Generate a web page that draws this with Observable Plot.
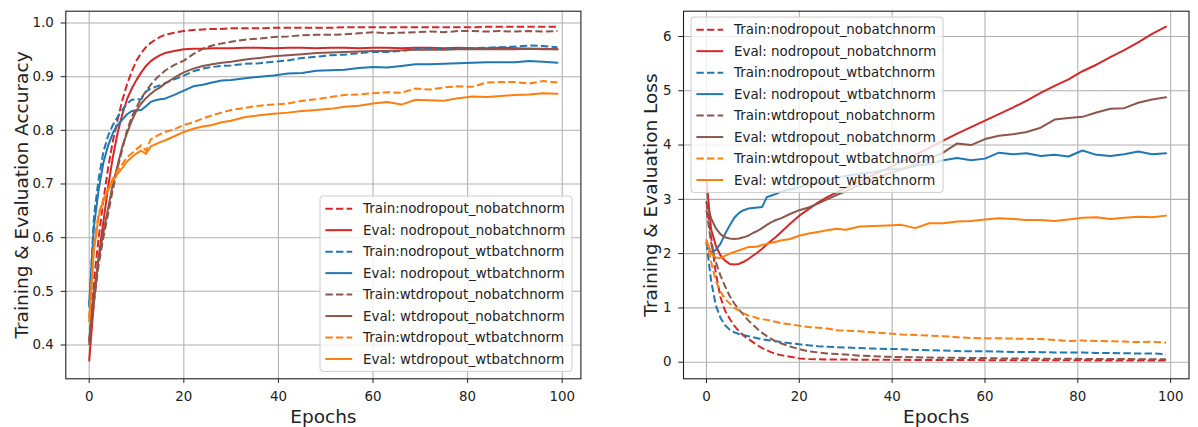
<!DOCTYPE html>
<html><head><meta charset="utf-8">
<script src="https://cdn.jsdelivr.net/npm/d3@7"></script>
<script src="https://cdn.jsdelivr.net/npm/@observablehq/plot@0.6"></script>
<style>
html,body{margin:0;padding:0;background:#fff;}
#wrap{position:relative;width:1198px;height:427px;overflow:hidden;font-family:"DejaVu Sans",sans-serif;}
.fig{position:absolute;top:0;}
</style></head><body><div id="wrap"></div>
<script>
const epochs = [0,1,2,3,4,5,6,7,8,9,10,11,12,13,14,15,16,18,20,22,24,26,28,30,33,36,39,42,45,48,51,54,57,60,63,66,69,72,75,78,81,84,87,90,93,96,99];
const xTicks = [0,20,40,60,80,100];
const accTicks = [0.4,0.5,0.6,0.7,0.8,0.9,1.0];
const lossTicks = [0,1,2,3,4,5,6];

const labels = ["Train:nodropout_nobatchnorm","Eval: nodropout_nobatchnorm","Train:nodropout_wtbatchnorm","Eval: nodropout_wtbatchnorm","Train:wtdropout_nobatchnorm","Eval: wtdropout_nobatchnorm","Train:wtdropout_wtbatchnorm","Eval: wtdropout_wtbatchnorm"];
const colors = ["#d62728","#d62728","#1f77b4","#1f77b4","#8c564b","#8c564b","#ff7f0e","#ff7f0e"];
const dashed = [true,false,true,false,true,false,true,false];

// Accuracy
const accTrainNdNb = [0.405,0.52,0.60,0.67,0.73,0.78,0.82,0.856,0.886,0.91,0.93,0.944,0.955,0.963,0.969,0.974,0.978,0.982,0.985,0.987,0.988,0.989,0.989,0.990,0.990,0.990,0.991,0.991,0.991,0.991,0.991,0.992,0.992,0.992,0.992,0.992,0.992,0.992,0.992,0.992,0.992,0.993,0.993,0.993,0.993,0.993,0.993];
const accEvalNdNb = [0.371,0.48,0.565,0.63,0.695,0.75,0.795,0.83,0.858,0.878,0.894,0.908,0.92,0.929,0.935,0.940,0.944,0.948,0.951,0.952,0.952,0.953,0.953,0.953,0.954,0.954,0.953,0.954,0.954,0.953,0.954,0.954,0.953,0.954,0.954,0.953,0.954,0.954,0.953,0.954,0.953,0.953,0.954,0.953,0.952,0.952,0.951];
const accTrainNdWb = [0.47,0.64,0.71,0.76,0.79,0.81,0.825,0.838,0.85,0.857,0.858,0.858,0.872,0.878,0.881,0.884,0.888,0.895,0.902,0.91,0.915,0.918,0.920,0.921,0.924,0.925,0.928,0.930,0.935,0.937,0.940,0.941,0.944,0.946,0.946,0.948,0.951,0.952,0.952,0.953,0.953,0.954,0.955,0.956,0.958,0.957,0.955];
const accEvalNdWb = [0.476,0.62,0.69,0.74,0.772,0.795,0.81,0.82,0.83,0.836,0.837,0.838,0.845,0.853,0.856,0.858,0.859,0.866,0.874,0.882,0.885,0.889,0.893,0.894,0.897,0.900,0.902,0.906,0.907,0.911,0.912,0.913,0.916,0.918,0.917,0.920,0.923,0.923,0.924,0.925,0.926,0.927,0.927,0.927,0.929,0.928,0.926];
const accTrainWdNb = [0.40,0.48,0.55,0.60,0.645,0.69,0.73,0.765,0.80,0.825,0.843,0.86,0.873,0.885,0.895,0.903,0.911,0.922,0.930,0.942,0.952,0.958,0.962,0.965,0.969,0.971,0.974,0.975,0.977,0.978,0.978,0.979,0.981,0.983,0.981,0.982,0.983,0.984,0.983,0.985,0.985,0.984,0.985,0.984,0.985,0.984,0.985];
const accEvalWdNb = [0.41,0.50,0.56,0.61,0.655,0.70,0.735,0.77,0.795,0.818,0.837,0.85,0.86,0.868,0.875,0.880,0.887,0.898,0.908,0.915,0.920,0.923,0.926,0.928,0.932,0.935,0.938,0.940,0.942,0.944,0.945,0.946,0.947,0.948,0.948,0.949,0.950,0.950,0.950,0.951,0.951,0.951,0.951,0.951,0.952,0.951,0.951];
const accTrainWdWb = [0.45,0.59,0.645,0.672,0.69,0.71,0.725,0.737,0.75,0.757,0.765,0.772,0.762,0.783,0.788,0.793,0.797,0.802,0.810,0.815,0.822,0.828,0.833,0.838,0.842,0.846,0.848,0.850,0.855,0.858,0.862,0.866,0.867,0.869,0.871,0.870,0.878,0.876,0.880,0.882,0.881,0.889,0.890,0.890,0.887,0.892,0.889];
const accEvalWdWb = [0.444,0.577,0.64,0.669,0.688,0.706,0.719,0.73,0.742,0.75,0.757,0.762,0.756,0.77,0.774,0.778,0.781,0.789,0.797,0.803,0.807,0.810,0.815,0.818,0.825,0.828,0.831,0.833,0.836,0.838,0.840,0.844,0.846,0.850,0.853,0.848,0.857,0.856,0.855,0.860,0.863,0.862,0.864,0.866,0.867,0.869,0.868];

// Loss
const lossTrainNdNb = [2.95,2.3,1.65,1.2,0.95,0.8,0.67,0.57,0.49,0.43,0.37,0.31,0.26,0.22,0.18,0.15,0.13,0.10,0.07,0.06,0.055,0.05,0.05,0.048,0.046,0.045,0.044,0.043,0.042,0.041,0.04,0.04,0.039,0.038,0.037,0.036,0.036,0.035,0.035,0.034,0.034,0.033,0.033,0.032,0.032,0.031,0.03];
const lossEvalNdNb = [3.35,2.45,2.15,1.97,1.87,1.81,1.80,1.81,1.85,1.90,1.96,2.02,2.09,2.17,2.24,2.31,2.39,2.55,2.70,2.82,2.94,3.04,3.13,3.21,3.33,3.45,3.57,3.70,3.82,3.95,4.08,4.21,4.33,4.45,4.57,4.69,4.82,4.96,5.09,5.21,5.36,5.48,5.62,5.75,5.89,6.05,6.18];
const lossTrainNdWb = [2.2,1.5,1.05,0.82,0.68,0.6,0.55,0.52,0.5,0.48,0.46,0.44,0.42,0.41,0.40,0.385,0.37,0.35,0.33,0.31,0.295,0.285,0.275,0.27,0.26,0.25,0.245,0.24,0.225,0.22,0.215,0.205,0.20,0.20,0.195,0.19,0.19,0.185,0.18,0.18,0.18,0.17,0.17,0.165,0.16,0.16,0.15];
const lossEvalNdWb = [2.20,2.02,2.07,2.18,2.36,2.52,2.66,2.75,2.80,2.83,2.84,2.85,2.86,3.04,3.07,3.10,3.14,3.18,3.22,3.27,3.30,3.34,3.40,3.43,3.47,3.50,3.55,3.56,3.62,3.65,3.72,3.76,3.72,3.75,3.86,3.83,3.85,3.80,3.82,3.79,3.90,3.82,3.80,3.83,3.88,3.83,3.85];
const lossTrainWdNb = [2.8,2.2,1.85,1.6,1.4,1.22,1.08,0.97,0.87,0.77,0.69,0.61,0.54,0.48,0.43,0.38,0.35,0.29,0.24,0.20,0.18,0.16,0.15,0.14,0.12,0.11,0.10,0.095,0.09,0.085,0.08,0.08,0.075,0.075,0.07,0.07,0.07,0.065,0.065,0.065,0.06,0.06,0.06,0.06,0.055,0.055,0.055];
const lossEvalWdNb = [2.95,2.65,2.47,2.36,2.30,2.28,2.27,2.28,2.30,2.33,2.38,2.42,2.47,2.53,2.58,2.62,2.65,2.73,2.80,2.85,2.92,3.00,3.08,3.15,3.27,3.38,3.47,3.55,3.65,3.75,3.86,4.03,4.00,4.11,4.17,4.20,4.24,4.32,4.47,4.50,4.52,4.60,4.67,4.68,4.78,4.84,4.88];
const lossTrainWdWb = [2.25,1.85,1.5,1.3,1.17,1.08,1.0,0.95,0.9,0.86,0.84,0.81,0.79,0.78,0.76,0.74,0.72,0.70,0.67,0.65,0.635,0.62,0.59,0.58,0.57,0.55,0.53,0.51,0.50,0.49,0.48,0.46,0.445,0.44,0.44,0.435,0.43,0.425,0.41,0.39,0.40,0.39,0.385,0.38,0.37,0.375,0.36];
const lossEvalWdWb = [2.25,2.00,1.93,1.92,1.96,2.00,2.03,2.06,2.09,2.12,2.12,2.13,2.16,2.18,2.20,2.22,2.24,2.27,2.33,2.37,2.40,2.43,2.46,2.44,2.50,2.51,2.52,2.53,2.47,2.56,2.56,2.59,2.60,2.63,2.65,2.64,2.62,2.62,2.60,2.63,2.66,2.67,2.64,2.66,2.68,2.67,2.70];

const accSeries = [accTrainNdNb,accEvalNdNb,accTrainNdWb,accEvalNdWb,accTrainWdNb,accEvalWdNb,accTrainWdWb,accEvalWdWb];
const lossSeries = [lossTrainNdNb,lossEvalNdNb,lossTrainNdWb,lossEvalNdWb,lossTrainWdNb,lossEvalWdNb,lossTrainWdWb,lossEvalWdWb];

const FS = 13.4, LFS = 18.5;
const textColor = "#222";

function makePlot({width, marginLeft, marginRight, yDomain, yTicks, yFormat, ylabel, ylabelDx, series}) {
  const lineMarks = series.map((vals, k) => Plot.line(
    epochs.map((e, i) => ({epoch: e, value: vals[i]})),
    {x: "epoch", y: "value", stroke: colors[k], strokeWidth: 2,
     strokeDasharray: dashed[k] ? "7.4,3.2" : null,
     strokeLinecap: dashed[k] ? "butt" : "round", strokeLinejoin: "round"}
  ));
  return Plot.plot({
    width, height: 427,
    marginLeft, marginRight, marginTop: 10.7, marginBottom: 48.7,
    x: {domain: [-4.95, 103.95]},
    y: {domain: yDomain},
    style: {fontFamily: "DejaVu Sans", fontSize: FS + "px", color: textColor, background: "transparent", overflow: "visible"},
    marks: [
      Plot.gridX(xTicks, {stroke: "#b0b0b0", strokeOpacity: 1, strokeWidth: 1.07}),
      Plot.gridY(yTicks, {stroke: "#b0b0b0", strokeOpacity: 1, strokeWidth: 1.07}),
      ...lineMarks,
      Plot.frame({stroke: "#1a1a1a", strokeWidth: 1.07}),
      Plot.axisX(xTicks, {tickSize: 4.7, tickPadding: 7.5, fontSize: FS, tickFormat: d3.format("d"), label: null}),
      Plot.axisY(yTicks, {tickSize: 4.7, tickPadding: 7.3, fontSize: FS, tickFormat: yFormat, label: null}),
      Plot.text(["Epochs"], {frameAnchor: "bottom", dy: 38.5, fontSize: LFS, text: d => d, fill: textColor, textAnchor: "middle", lineAnchor: "middle"}),
      Plot.text([ylabel], {frameAnchor: "left", dx: ylabelDx, rotate: -90, fontSize: LFS, text: d => d, fill: textColor, textAnchor: "middle", lineAnchor: "middle"})
    ]
  });
}

function makeLegend(left, top) {
  const w = 252, h = 175.4;
  const svg = d3.create("svg").attr("width", w + 2).attr("height", h + 2)
    .style("position", "absolute").style("left", (left - 1) + "px").style("top", (top - 1) + "px");
  const g = svg.append("g").attr("transform", "translate(1,1)");
  g.append("rect").attr("x", 0).attr("y", 0).attr("width", w).attr("height", h).attr("rx", 3)
    .attr("fill", "#fff").attr("fill-opacity", 0.8).attr("stroke", "#cccccc").attr("stroke-width", 1);
  labels.forEach((lab, i) => {
    const cy = 12.7 + 21.47 * i;
    g.append("line").attr("x1", 5.4).attr("x2", 32.2).attr("y1", cy).attr("y2", cy)
      .attr("stroke", colors[i]).attr("stroke-width", 2)
      .attr("stroke-dasharray", dashed[i] ? "7.4,3.2" : null);
    g.append("text").attr("x", 43).attr("y", cy + 4.7).attr("font-family", "DejaVu Sans")
      .attr("font-size", FS).attr("fill", textColor).text(lab);
  });
  return svg.node();
}

const wrap = document.getElementById("wrap");
const left = makePlot({width: 600, marginLeft: 65.3, marginRight: 19.6, yDomain: [0.337, 1.022], yTicks: accTicks,
  yFormat: d3.format(".1f"), ylabel: "Training & Evaluation Accuracy", ylabelDx: -43.8, series: accSeries});
left.classList.add("fig"); left.style.left = "0px";
const right = makePlot({width: 598, marginLeft: 83, marginRight: 9.5, yDomain: [-0.306, 6.466], yTicks: lossTicks,
  yFormat: d3.format("d"), ylabel: "Training & Evaluation Loss", ylabelDx: -32, series: lossSeries});
right.classList.add("fig"); right.style.left = "600px";
wrap.appendChild(left);
wrap.appendChild(right);
wrap.appendChild(makeLegend(320, 196.2));
wrap.appendChild(makeLegend(690.5, 17.3));
</script></body></html>
